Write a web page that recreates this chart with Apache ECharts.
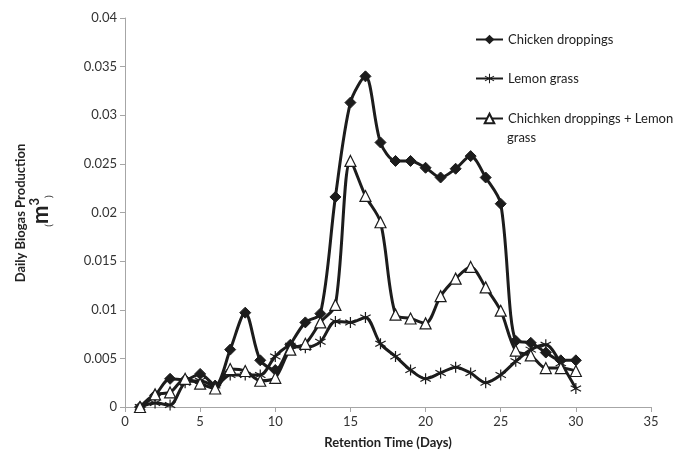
<!DOCTYPE html>
<html><head><meta charset="utf-8">
<script src="https://cdn.jsdelivr.net/npm/echarts@6/dist/echarts.min.js"></script>
<style>html,body{margin:0;padding:0;background:#fff}#c{width:685px;height:454px}</style>
</head><body><div id="c"></div>
<script>
const days = [1,2,3,4,5,6,7,8,9,10,11,12,13,14,15,16,17,18,19,20,21,22,23,24,25,26,27,28,29,30];
const chicken = [0,0.0012,0.0029,0.0028,0.0034,0.0022,0.0059,0.0097,0.0048,0.0038,0.0064,0.0087,0.0096,0.0216,0.0313,0.0340,0.0272,0.0253,0.0253,0.0246,0.0236,0.0245,0.0258,0.0236,0.0209,0.0068,0.0066,0.0056,0.0048,0.0048];
const lemon = [0,0.0004,0.0002,0.0025,0.0027,0.0022,0.0033,0.0033,0.0033,0.0052,0.0063,0.0061,0.0067,0.0088,0.0087,0.0092,0.0065,0.0052,0.0038,0.0029,0.0035,0.0041,0.0035,0.0025,0.0033,0.0047,0.0059,0.0064,0.0045,0.0019];
const mixed = [0,0.0013,0.0015,0.0029,0.0024,0.0019,0.0039,0.0037,0.0027,0.0030,0.0059,0.0065,0.0087,0.0105,0.0253,0.0217,0.0190,0.0095,0.0091,0.0086,0.0114,0.0132,0.0144,0.0123,0.0099,0.0058,0.0053,0.0040,0.0040,0.0037];
const names = ['Chicken droppings','Lemon grass','Chichken droppings + Lemon grass'];
const xTicks = {min:0,max:35,interval:5};
const yTicks = {min:0,max:0.04,interval:0.005};

const C = '#1c1c1c';
const star = 'path://M9,0 L11,0 L11,8.3 L18.2,4.1 L19.2,5.9 L12,10 L19.2,14.1 L18.2,15.9 L11,11.7 L11,20 L9,20 L9,11.7 L1.8,15.9 L0.8,14.1 L8,10 L0.8,5.9 L1.8,4.1 L9,8.3 Z';
function pts(arr){return days.map((d,i)=>[d,arr[i]]);}
const chart = echarts.init(document.getElementById('c'));
const font = 'Lato, "Open Sans", sans-serif';
function leg(name, top){
  return {data:[name], left:475, top:top, padding:0, itemWidth:27, itemHeight:12, itemGap:0,
    textStyle:{fontFamily:font,fontSize:13,color:'#222',lineHeight:19},
    formatter: n => n===names[2] ? 'Chichken droppings + Lemon' : n};
}
chart.setOption({
  animation:false,
  textStyle:{fontFamily:font},
  grid:{left:125,right:34,top:18,bottom:47},
  legend:[leg(names[0],30),leg(names[1],69),leg(names[2],109)],
  xAxis:{type:'value',min:xTicks.min,max:xTicks.max,interval:xTicks.interval,
    splitLine:{show:false},
    axisLine:{lineStyle:{color:'#a6a6a6',width:1}},
    axisTick:{show:true,length:5,lineStyle:{color:'#a6a6a6'}},
    axisLabel:{color:'#333',fontSize:13,fontFamily:font,margin:8},
    name:'Retention Time (Days)',nameLocation:'middle',nameGap:29,
    nameTextStyle:{fontWeight:'bold',fontSize:13,color:'#222',fontFamily:font}},
  yAxis:{type:'value',min:yTicks.min,max:yTicks.max,interval:yTicks.interval,
    splitLine:{show:false},
    axisLine:{show:true,lineStyle:{color:'#a6a6a6',width:1}},
    axisTick:{show:true,length:5,lineStyle:{color:'#a6a6a6'}},
    axisLabel:{color:'#333',fontSize:13,fontFamily:font,margin:8}},
  graphic:[
    {type:'text',x:21,y:213,rotation:Math.PI/2,
      style:{text:'Daily Biogas Production',font:'bold 13px '+font,fill:'#222',align:'center',verticalAlign:'middle'}},
    {type:'text',x:41,y:211,rotation:Math.PI/2,
      style:{text:'{p|(}{m|m}{s|3}{p|)}',align:'center',verticalAlign:'middle',fill:'#222',
        rich:{p:{fontSize:10,fontFamily:font,fill:'#222',verticalAlign:'bottom',lineHeight:26},
              m:{fontSize:22,fontWeight:'bold',fontFamily:font,fill:'#222',lineHeight:26},
              s:{fontSize:13,fontWeight:'bold',fontFamily:font,fill:'#222',verticalAlign:'top',lineHeight:26}}}},
    {type:'text',x:507,y:138,
      style:{text:'grass',font:'13px '+font,fill:'#222',align:'left',verticalAlign:'middle'}}
  ],
  series:[
    {name:names[0],type:'line',data:pts(chicken),smooth:0.3,symbol:'diamond',symbolSize:11,
      lineStyle:{color:C,width:3},itemStyle:{color:C,borderColor:C}},
    {name:names[1],type:'line',data:pts(lemon),smooth:0.3,symbol:star,symbolSize:11,
      lineStyle:{color:C,width:3},itemStyle:{color:C,borderColor:C,borderWidth:0}},
    {name:names[2],type:'line',data:pts(mixed),smooth:0.3,symbol:'triangle',symbolSize:11,
      lineStyle:{color:C,width:3},itemStyle:{color:'#fff',borderColor:C,borderWidth:1.2}}
  ]
});
</script></body></html>
